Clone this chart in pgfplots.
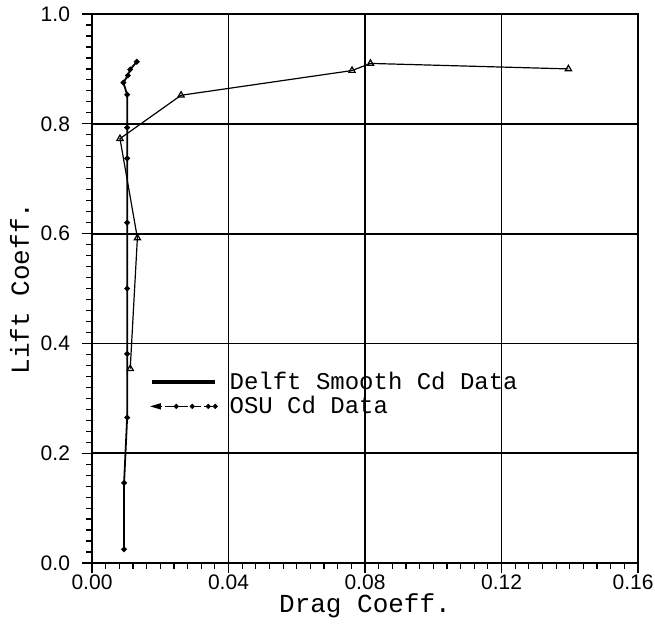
\documentclass[border=0pt]{standalone}
\usepackage{pgfplots}
\pgfplotsset{compat=1.18}
\usepackage{fontspec}
\setmainfont{Liberation Sans}
\newfontfamily\plotmono{Liberation Mono}
\begin{document}
\begin{tikzpicture}
\begin{axis}[
  name=main,
  scale only axis,
  width=273pt, height=274.5pt,
  xmin=0, xmax=0.16, ymin=0, ymax=1.0,
  xtick={0,0.04,0.08,0.12,0.16},
  ytick={0,0.2,0.4,0.6,0.8,1.0},
  xticklabels={0.00,0.04,0.08,0.12,\hspace*{-5pt}0.16},
  yticklabels={0.0,0.2,0.4,0.6,0.8,1.0},
  minor x tick num=9, minor y tick num=9,
  tick pos=left,
  tick align=outside,
  major tick length=5pt, minor tick length=3pt,
  every tick/.style={black, line width=0.6pt},
  grid=major,
  grid style={black, line width=0.9pt},
  axis line style={line width=0.9pt},
  ticklabel style={font=\fontsize{10.5}{12}\selectfont},
  xticklabel style={yshift=2.5pt},
  yticklabel style={xshift=-2.5pt},
  /pgf/number format/assume math mode=true,
  xlabel={\plotmono\fontsize{13}{15}\selectfont Drag Coeff.},
  ylabel={\plotmono\fontsize{13}{15}\selectfont Lift Coeff.},
  xlabel style={yshift=5pt},
  ylabel style={yshift=-1pt},
  legend cell align=left,
  legend style={draw=none, fill=none, at={(0.103,0.36)}, anchor=north west,
    font=\plotmono\fontsize{12}{13}\selectfont, row sep=-2pt,
    inner sep=1pt, /tikz/every odd column/.style={column sep=4pt}},
]
\addplot[black, line width=0.9pt, mark=*, mark size=0.9pt,
  legend image code/.code={\draw[black, line width=1.6pt] (0pt,0pt) -- (31.5pt,0pt);}]
coordinates {
(0.0094,0.025)
(0.0094,0.146)
(0.0103,0.265)
(0.0103,0.381)
(0.0103,0.500)
(0.0103,0.620)
(0.0103,0.737)
(0.0103,0.793)
(0.0103,0.853)
(0.0092,0.875)
(0.0105,0.888)
(0.0112,0.899)
(0.0131,0.913)
};
\addlegendentry{Delft Smooth Cd Data}
\addplot[black, line width=0.6pt, mark=triangle, mark size=1.8pt,
  legend image code/.code={
    \draw[black, line width=0.8pt, dash pattern=on 5pt off 1.5pt] (0pt,0pt) -- (31.5pt,0pt);
    \fill[black] (0pt,0pt) -- (4pt,1.2pt) -- (4pt,-1.2pt) -- cycle;
    \foreach \xx in {12pt,20pt,28pt,31.5pt} \fill[black] (\xx,0pt) circle (0.9pt);}]
coordinates {
(0.0112,0.354)
(0.0133,0.592)
(0.0082,0.773)
(0.0261,0.852)
(0.0762,0.897)
(0.0816,0.910)
(0.1396,0.900)
};
\addlegendentry{OSU Cd Data}
\end{axis}
\pgfresetboundingbox
\path[use as bounding box] ([xshift=-46pt,yshift=-30pt]main.south west) rectangle ([xshift=8.5pt,yshift=7pt]main.north east);
\end{tikzpicture}
\end{document}
